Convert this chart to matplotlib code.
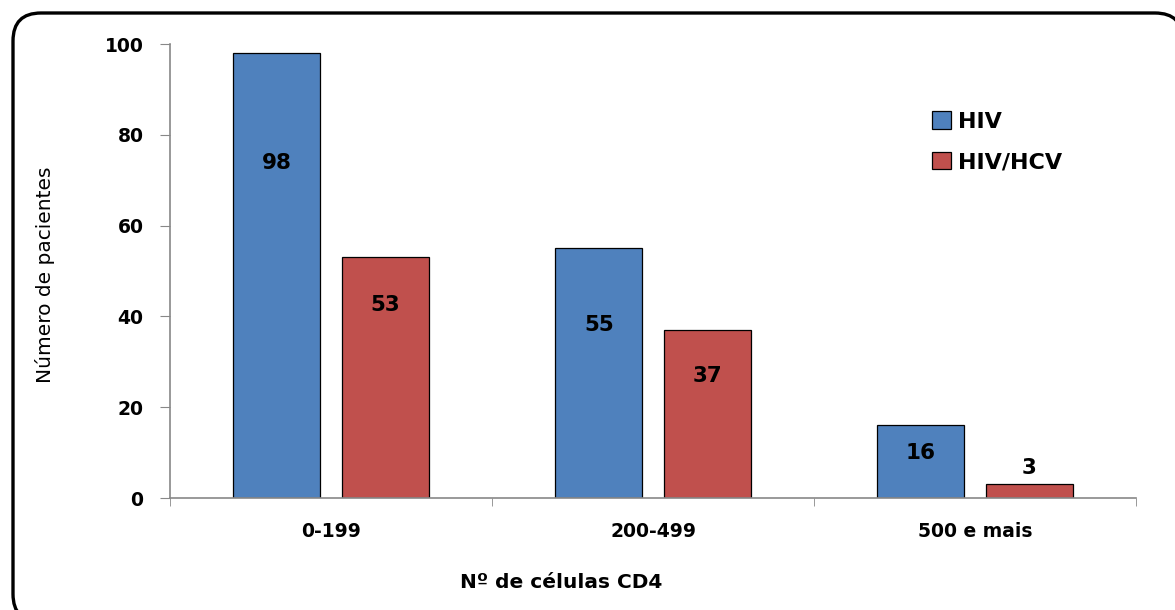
import matplotlib.pyplot as plt
import numpy as np
from matplotlib.patches import FancyBboxPatch

plt.rcParams['font.family'] = ['DejaVu Sans']

categorias = ['0-199', '200-499', '500 e mais']
hiv = [98, 55, 16]
hiv_hcv = [53, 37, 3]
series = ['HIV', 'HIV/HCV']
cores = ['#4F81BD', '#C0504D']

# altura onde cada rótulo de valor fica escrito
pos_rot_hiv = [73.8, 38.1, 9.9]
pos_rot_hcv = [42.5, 26.9, 6.6]

W, H = 1175, 610
fig = plt.figure(figsize=(W / 100, H / 100), dpi=100)

# moldura arredondada (em polegadas); preenchida para o Agg não recortar as curvas
moldura = FancyBboxPatch((0.13, (H - 622) / 100), (1183 - 13) / 100, (622 - 13) / 100,
                         boxstyle='round,pad=0,rounding_size=0.28',
                         transform=fig.dpi_scale_trans, facecolor='white',
                         edgecolor='black', linewidth=2.4, zorder=-1)
fig.patches.append(moldura)

ax = fig.add_axes([170 / W, 1 - 498 / H, (1136 - 170) / W, (498 - 44) / H])
ax.patch.set_alpha(0)

x = np.arange(len(categorias))
larg = 0.27
desl = 0.168
ax.bar(x - desl, hiv, larg, color=cores[0], edgecolor='black', linewidth=0.9, label=series[0])
ax.bar(x + desl, hiv_hcv, larg, color=cores[1], edgecolor='black', linewidth=0.9, label=series[1])

for xi, v, p in zip(x, hiv, pos_rot_hiv):
    ax.text(xi - desl, p, str(v), ha='center', va='center', fontsize=15.5, fontweight='bold')
for xi, v, p in zip(x, hiv_hcv, pos_rot_hcv):
    ax.text(xi + desl, p, str(v), ha='center', va='center', fontsize=15.5, fontweight='bold')

ax.set_xlim(-0.5, len(categorias) - 0.5)
ax.set_ylim(0, 100)
ax.set_yticks(range(0, 101, 20))
ax.set_xticks(x)
ax.set_xticklabels(categorias)
ax.set_xticks(np.arange(-0.5, len(categorias), 1.0), minor=True)
ax.tick_params(axis='x', which='major', length=0, pad=17)
ax.tick_params(axis='x', which='minor', length=6, color='#888888')
ax.tick_params(axis='y', length=7, color='#888888', pad=12)
for lab in ax.get_xticklabels() + ax.get_yticklabels():
    lab.set_fontsize(13.5)
    lab.set_fontweight('bold')

for s in ['top', 'right']:
    ax.spines[s].set_visible(False)
for s in ['left', 'bottom']:
    ax.spines[s].set_color('#888888')
    ax.spines[s].set_linewidth(1.2)

fig.text(45 / W, 1 - 275 / H, 'Número de pacientes', rotation=90,
         ha='center', va='center', fontsize=14.5)
fig.text(561 / W, 1 - 583 / H, 'Nº de células CD4', ha='center', va='center',
         fontsize=14.5, fontweight='bold')

leg = ax.legend(loc='upper left', bbox_to_anchor=((912 - 170) / (1136 - 170), (498 - 91) / (498 - 44)),
                frameon=False, prop={'size': 16, 'weight': 'bold'},
                handlelength=0.85, handleheight=0.85, handletextpad=0.3, labelspacing=0.9)

fig.savefig('out.png', dpi=100)
